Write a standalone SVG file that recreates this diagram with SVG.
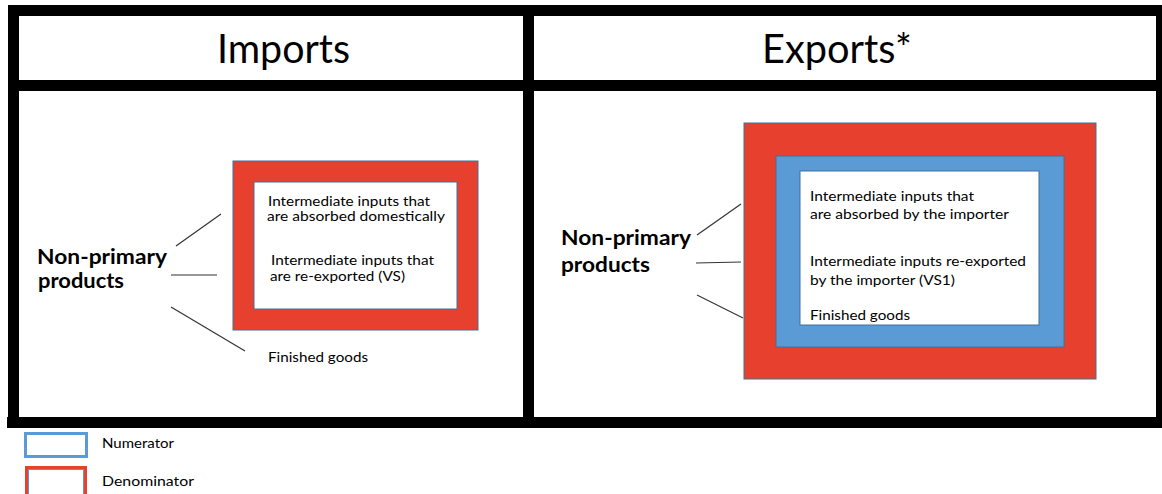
<svg xmlns="http://www.w3.org/2000/svg" width="1162" height="494" viewBox="0 0 1162 494">
<style>
.bar{fill:#000}
.hdr{font-family:Lato,"Liberation Sans",sans-serif;font-size:41px;fill:#000}
.bold{font-family:Lato,"Liberation Sans",sans-serif;font-size:20px;font-weight:bold;fill:#000}
.txt{font-family:Lato,"Liberation Sans",sans-serif;font-size:13px;fill:#000}
.leg{font-family:Lato,"Liberation Sans",sans-serif;font-size:12.5px;fill:#000}
.red{fill:#E8402F;stroke:#41719C;stroke-width:1}
.blue{fill:#5B9BD5;stroke:#41719C;stroke-width:1}
.white{fill:#fff;stroke:#41719C;stroke-width:1}
.conn{stroke:#333;stroke-width:1.2;fill:none}
</style>
<rect width="1162" height="494" fill="#fff"/>
<g id="frame">
<rect class="bar" x="8" y="5" width="1154" height="11"/>
<rect class="bar" x="8" y="80" width="1154" height="11"/>
<rect class="bar" x="7" y="417" width="1155" height="11"/>
<rect class="bar" x="8" y="5" width="11" height="423"/>
<rect class="bar" x="523" y="5" width="11" height="423"/>
<rect class="bar" x="1156" y="5" width="11" height="423"/>
</g>
<g id="header-imports"><text class="hdr" x="217" y="63" textLength="133" lengthAdjust="spacingAndGlyphs">Imports</text></g>
<g id="header-exports"><text class="hdr" x="762" y="63" textLength="150" lengthAdjust="spacingAndGlyphs">Exports*</text></g>
<g id="imports-source">
<text class="bold" x="37" y="264" textLength="130" lengthAdjust="spacingAndGlyphs">Non-primary</text>
<text class="bold" x="38" y="288" textLength="86" lengthAdjust="spacingAndGlyphs">products</text>
</g>
<g id="imports-box">
<rect class="red" x="233" y="161" width="245" height="169"/>
<rect class="white" x="254" y="182" width="203" height="127"/>
<text class="txt" x="268" y="205.5" textLength="162" lengthAdjust="spacingAndGlyphs">Intermediate inputs that</text>
<text class="txt" x="267" y="220.5" textLength="178" lengthAdjust="spacingAndGlyphs">are absorbed domestically</text>
<text class="txt" x="271" y="264.5" textLength="163" lengthAdjust="spacingAndGlyphs">Intermediate inputs that</text>
<text class="txt" x="270" y="280.5" textLength="135" lengthAdjust="spacingAndGlyphs">are re-exported (VS)</text>
</g>
<g id="imports-finished"><text class="txt" x="268" y="362" textLength="100" lengthAdjust="spacingAndGlyphs">Finished goods</text></g>
<g id="exports-source">
<text class="bold" x="561" y="245" textLength="130" lengthAdjust="spacingAndGlyphs">Non-primary</text>
<text class="bold" x="561" y="272" textLength="89" lengthAdjust="spacingAndGlyphs">products</text>
</g>
<g id="exports-box">
<rect class="red" x="744" y="123" width="352" height="256"/>
<rect class="blue" x="776" y="156" width="288" height="191"/>
<rect class="white" x="800" y="171" width="239" height="154"/>
<text class="txt" x="810" y="201" textLength="164" lengthAdjust="spacingAndGlyphs">Intermediate inputs that</text>
<text class="txt" x="810" y="219" textLength="199" lengthAdjust="spacingAndGlyphs">are absorbed by the importer</text>
<text class="txt" x="810" y="266" textLength="216" lengthAdjust="spacingAndGlyphs">Intermediate inputs re-exported</text>
<text class="txt" x="810" y="285" textLength="145" lengthAdjust="spacingAndGlyphs">by the importer (VS1)</text>
<text class="txt" x="810" y="320" textLength="100" lengthAdjust="spacingAndGlyphs">Finished goods</text>
</g>
<g id="connectors">
<line class="conn" x1="176" y1="246" x2="221" y2="214"/>
<line class="conn" x1="171" y1="275" x2="217" y2="275"/>
<line class="conn" x1="171" y1="307" x2="245" y2="351"/>
<line class="conn" x1="697" y1="235" x2="741" y2="204"/>
<line class="conn" x1="696" y1="263" x2="741" y2="262"/>
<line class="conn" x1="697" y1="295" x2="743" y2="318"/>
</g>
<g id="legend-numerator">
<rect x="25.5" y="433.5" width="61" height="23" fill="#fff" stroke="#5B9BD5" stroke-width="3"/>
<text class="leg" x="102" y="448" textLength="72" lengthAdjust="spacingAndGlyphs">Numerator</text>
</g>
<g id="legend-denominator">
<rect x="26.5" y="467.5" width="59" height="30" fill="#fff" stroke="#E8402F" stroke-width="3"/>
<rect x="28.5" y="469.5" width="55" height="26" fill="none" stroke="#5B9BD5" stroke-width="1"/>
<text class="leg" x="102" y="486" textLength="92" lengthAdjust="spacingAndGlyphs">Denominator</text>
</g>
</svg>
